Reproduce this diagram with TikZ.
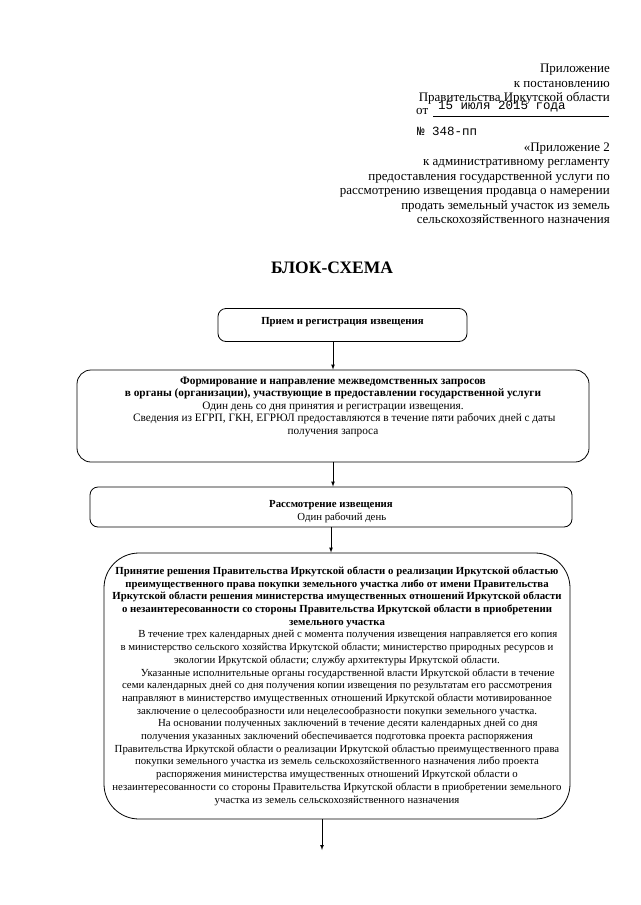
\documentclass[tikz,border=0pt]{standalone}
\usepackage{fontspec}
\setmainfont{Liberation Serif}
\setmonofont{Liberation Mono}
\usetikzlibrary{arrows}

\begin{document}
\begin{tikzpicture}[x=1pt, y=-1pt,
		>=latex,   %Pfeilspitzen
		kopf/.style={anchor=base east, inner sep=0pt, font=\fontsize{13}{14}\selectfont},
		hand/.style={anchor=base west, inner sep=0pt, font=\fontsize{12.5}{14}\ttfamily},
		kasten/.style={draw, line width=0.8pt, align=center, inner sep=0pt, font=\fontsize{10.8}{12.7}\selectfont},
		pfeil/.style={->, line width=0.7pt}]
		%Rahmen
		\useasboundingbox (0,0) rectangle (640,905);
		% Kopf rechts oben
		\node[kopf] (k1) at (610,72) {Приложение};
		\node[kopf] (k2) at (610,87) {к постановлению};
		\node[kopf] (k3) at (610,101) {Правительства Иркутской области};
		\node[hand] (datum) at (438,109) {15 июля 2015 года};
		\node[anchor=base west, inner sep=0pt, font=\fontsize{13}{14}\selectfont] (von) at (416,114) {от};
		\draw[line width=0.5pt] (433,116) -- (609,116);
		\node[hand] (nr) at (417,135) {№ 348-пп};
		\node[kopf] (p1) at (610,151.5) {«Приложение 2};
		\node[kopf] (p2) at (610,165.5) {к административному регламенту};
		\node[kopf] (p3) at (610,180) {предоставления государственной услуги по};
		\node[kopf] (p4) at (610,194.5) {рассмотрению извещения продавца о намерении};
		\node[kopf] (p5) at (610,209) {продать земельный участок из земель};
		\node[kopf] (p6) at (610,223.5) {сельскохозяйственного назначения};
		% Titel
		\node[font=\fontsize{17.5}{19}\bfseries\selectfont] (titel) at (332,268) {БЛОК-СХЕМА};
		% Kaesten
		\node[kasten, rounded corners=8pt, minimum width=249, minimum height=33, text depth=9pt] (b1) at (342.5,325)
			{\textbf{Прием и регистрация извещения}};
		\node[kasten, rounded corners=14pt, minimum width=512, minimum height=92, font=\fontsize{11.3}{12.5}\selectfont] (b2) at (333,416)
			{\textbf{Формирование и направление межведомственных запросов}\\
			\textbf{в органы (организации), участвующие в предоставлении государственной услуги}\\
			Один день со дня принятия и регистрации извещения.\hspace*{3em}\\
			\hspace*{2em}Сведения из ЕГРП, ГКН, ЕГРЮЛ предоставляются в течение пяти рабочих дней с даты\\
			получения запроса\\[8pt]};
		\node[kasten, rounded corners=8pt, minimum width=482, minimum height=40] (b3) at (331,507)
			{\rule{0pt}{16pt}\textbf{Рассмотрение извещения}\\
			\hspace*{2em}Один рабочий день};
		\node[kasten, rounded corners=35pt, minimum width=466, minimum height=266] (b4) at (337,686)
			{\textbf{Принятие решения Правительства Иркутской области о реализации Иркутской областью}\\
			\textbf{преимущественного права покупки земельного участка либо от имени Правительства}\\
			\textbf{Иркутской области решения министерства имущественных отношений Иркутской области}\\
			\textbf{о незаинтересованности со стороны Правительства Иркутской области в приобретении}\\
			\textbf{земельного участка}\\
			\hspace*{2em}В течение трех календарных дней с момента получения извещения направляется его копия\\
			в министерство сельского хозяйства Иркутской области; министерство природных ресурсов и\\
			экологии Иркутской области; службу архитектуры Иркутской области.\\
			\hspace*{2em}Указанные исполнительные органы государственной власти Иркутской области в течение\\
			семи календарных дней со дня получения копии извещения по результатам его рассмотрения\\
			направляют в министерство имущественных отношений Иркутской области мотивированное\\
			заключение о целесообразности или нецелесообразности покупки земельного участка.\\
			\hspace*{2em}На основании полученных заключений  в течение десяти календарных дней со дня\\
			получения указанных заключений обеспечивается подготовка проекта распоряжения\\
			Правительства Иркутской области о реализации Иркутской областью преимущественного права\\
			покупки земельного участка из земель сельскохозяйственного назначения либо проекта\\
			распоряжения министерства имущественных отношений Иркутской области о\\
			незаинтересованности со стороны Правительства Иркутской области в приобретении земельного\\
			участка из земель сельскохозяйственного назначения};
		\coordinate (ende) at (322,850);
		% Pfeile
		\draw[pfeil] (b1.south -| b2.north) -- (b2.north);
		\draw[pfeil] (b2.south) -- (b2.south |- b3.north);
		\draw[pfeil] (b3.south) -- (b3.south |- b4.north);
		\draw[pfeil] (b4.south -| ende) -- (ende);
	\end{tikzpicture}
\end{document}
